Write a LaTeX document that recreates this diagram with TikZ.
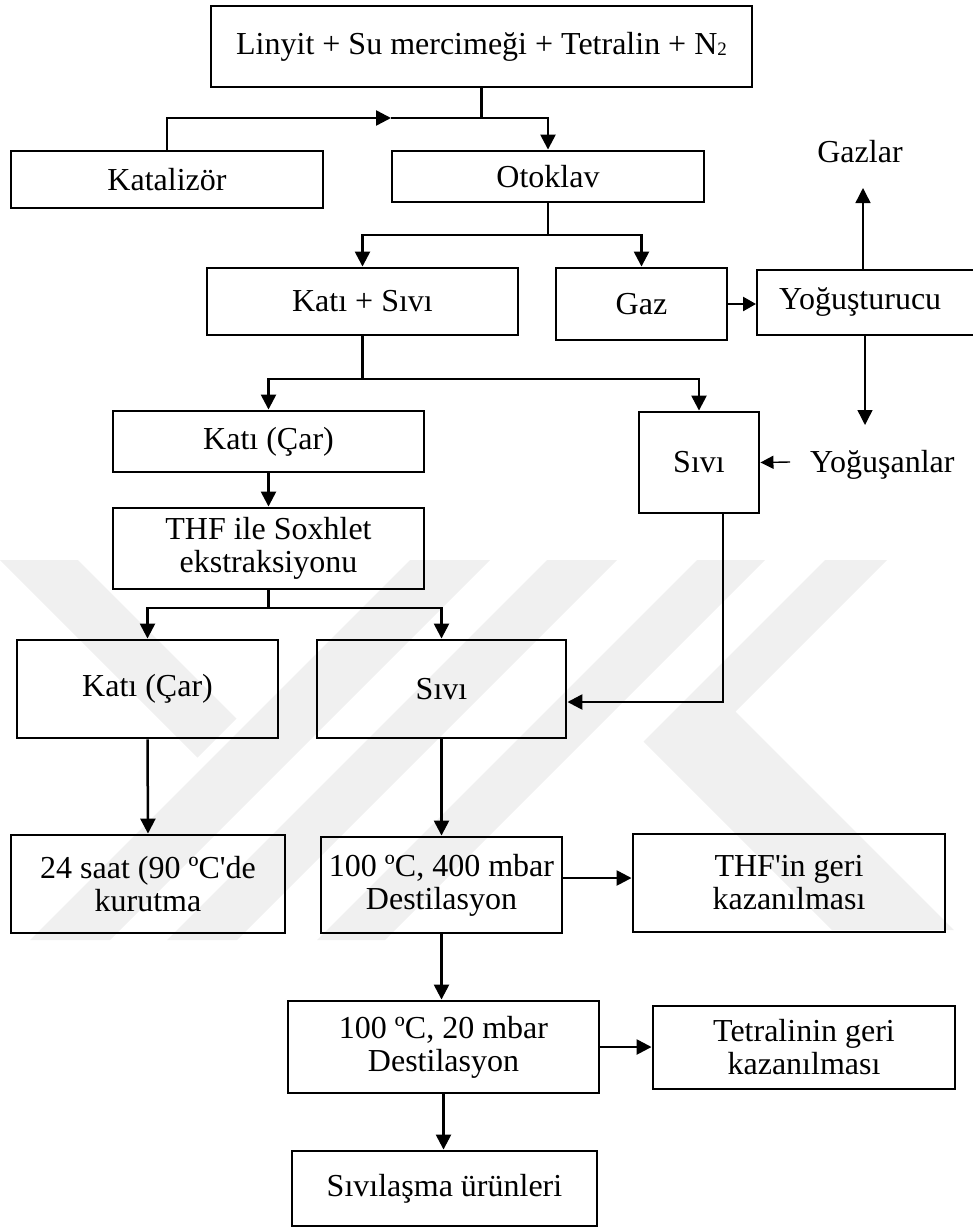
\documentclass[tikz,border=0pt]{standalone}
\usepackage{fontspec}
\setmainfont{Liberation Serif}
\usetikzlibrary{arrows.meta}
\begin{document}
\begin{tikzpicture}[x=1pt,y=-1pt,
  txt/.style={font=\fontsize{32}{33}\selectfont},
  box/.style={draw, line width=2.9pt, inner sep=2pt, align=center, txt},
  conn/.style={line width=2.5pt},
  thinconn/.style={line width=1.4pt},
  tip/.style={-{Triangle[length=15pt,width=15pt]}},
  lbl/.style={txt, inner sep=0pt},
  wm/.style={fill=black!6, draw=none}
]
\useasboundingbox (0,0) rectangle (973,1229);

% faint background emblem
\fill[wm] (0,560) -- (78,560) -- (236.5,718.5) -- (197.5,757.5) -- cycle;
\fill[wm] (410,560) -- (490,560) -- (110,940) -- (30,940) -- cycle;
\fill[wm] (547,560) -- (617,560) -- (237,940) -- (167,940) -- cycle;
\fill[wm] (697,560) -- (765,560) -- (385,940) -- (317,940) -- cycle;
\fill[wm] (825,560) -- (887,560) -- (735.5,711.5) -- (954,930) -- (832,930)
  -- (643.5,741.5) -- cycle;

% process boxes
\node[box, minimum width=541pt, minimum height=81pt] (top) at (481.5,46.5)
  {Linyit + Su mercimeği + Tetralin + N\raisebox{-1pt}{\fontsize{19}{19}\selectfont 2}};
\node[box, minimum width=312pt, minimum height=57pt] (kat) at (167,179.5) {Katalizör};
\node[box, minimum width=312pt, minimum height=51pt] (oto) at (548,176.5) {Otoklav};
\node[box, minimum width=311pt, minimum height=67pt] (ks) at (362.5,301.5) {Katı + Sıvı};
\node[box, minimum width=171pt, minimum height=72pt] (gaz) at (641.5,304) {Gaz};
\node[box, line width=2.2pt, anchor=west, text width=212pt, align=left, inner xsep=22pt,
      minimum height=65pt] (yog) at (756,302.5) {Yoğuşturucu};
\node[box, minimum width=311pt, minimum height=61pt] (kc1) at (268.5,441.5) {Katı (Çar)};
\node[box, minimum width=120pt, minimum height=101pt] (sr) at (699,462.5) {Sıvı};
\node[box, minimum width=311pt, minimum height=81pt] (thf) at (268.5,548.5)
  {THF ile Soxhlet\\ekstraksiyonu};
\node[box, minimum width=261pt, minimum height=98pt] (kc2) at (147.5,689) {Katı (Çar)};
\node[box, minimum width=249pt, minimum height=98pt] (s2) at (441.5,689) {Sıvı};
\node[box, minimum width=274pt, minimum height=98pt] (kur) at (148,884)
  {24 saat (90 ºC\textquotesingle de\\kurutma};
\node[box, minimum width=241pt, minimum height=96pt] (d1) at (441.5,885)
  {100 ºC, 400 mbar\\Destilasyon};
\node[box, minimum width=312pt, minimum height=98pt] (thfg) at (789,883)
  {THF\textquotesingle in geri\\kazanılması};
\node[box, minimum width=311pt, minimum height=92pt] (d2) at (443.5,1047)
  {100 ºC, 20 mbar\\Destilasyon};
\node[box, minimum width=302pt, minimum height=83pt] (tet) at (804,1047.5)
  {Tetralinin geri\\kazanılması};
\node[box, minimum width=305pt, minimum height=75pt] (sl) at (444.5,1188.5)
  {Sıvılaşma ürünleri};

% free labels
\node[lbl, anchor=base] (gazlar) at (860,162) {Gazlar};
\node[lbl, anchor=base west] (yogsan) at (810,472) {Yoğuşanlar};

% junctions and free ends
\coordinate (j1) at (481.5,118);
\coordinate (jm) at (391,118);
\coordinate (j2) at (548,235);
\coordinate (j3) at (362.5,379);
\coordinate (j4) at (268.5,608);
\coordinate (srb) at ([xshift=24pt]sr.south);
\coordinate (s2in) at ([yshift=-13pt]s2.east);
\coordinate (d1out) at ([yshift=7pt]d1.east);
\coordinate (yogup) at (863,270);
\coordinate (gtip) at (863,188);
\coordinate (yogdn) at (865,335);
\coordinate (ytip) at (865,425);
\coordinate (ystart) at (790,462);

% connectors
\draw[conn] (top.south) -- (j1);
\draw[conn, tip] (kat.north) |- (jm);
\draw[conn] (jm) -- (j1);
\draw[conn, tip] (j1) -| (oto.north);

\draw[conn] (oto.south) -- (j2);
\draw[conn, tip] (j2) -| (ks.north);
\draw[conn, tip] (j2) -| (gaz.north);

\draw[conn, -{Triangle[length=13pt,width=14pt]}] (gaz.east) -- (gaz.east -| yog.west);
\draw[thinconn, tip] (yogup) -- (gtip);
\draw[thinconn, tip] (yogdn) -- (ytip);
\draw[thinconn, -{Triangle[length=13pt,width=13pt]}] (ystart) -- (sr.east);

\draw[conn] (ks.south) -- (j3);
\draw[conn, tip] (j3) -| (kc1.north);
\draw[conn, tip] (j3) -| (sr.north);

\draw[conn, tip] (kc1.south) -- (thf.north);
\draw[conn] (thf.south) -- (j4);
\draw[conn, tip] (j4) -| (kc2.north);
\draw[conn, tip] (j4) -| (s2.north);

\draw[conn, tip] (srb) |- (s2in);

\draw[conn, tip] (kc2.south) -- (kur.north);
\draw[conn, tip] (s2.south) -- (d1.north);
\draw[conn, tip] (d1out) -- (d1out -| thfg.west);
\draw[conn, tip] (d1.south) -- (d1.south |- d2.north);
\draw[conn, tip] (d2.east) -- (tet.west |- d2.east);
\draw[conn, tip] (d2.south) -- (d2.south |- sl.north);
\end{tikzpicture}
\end{document}
